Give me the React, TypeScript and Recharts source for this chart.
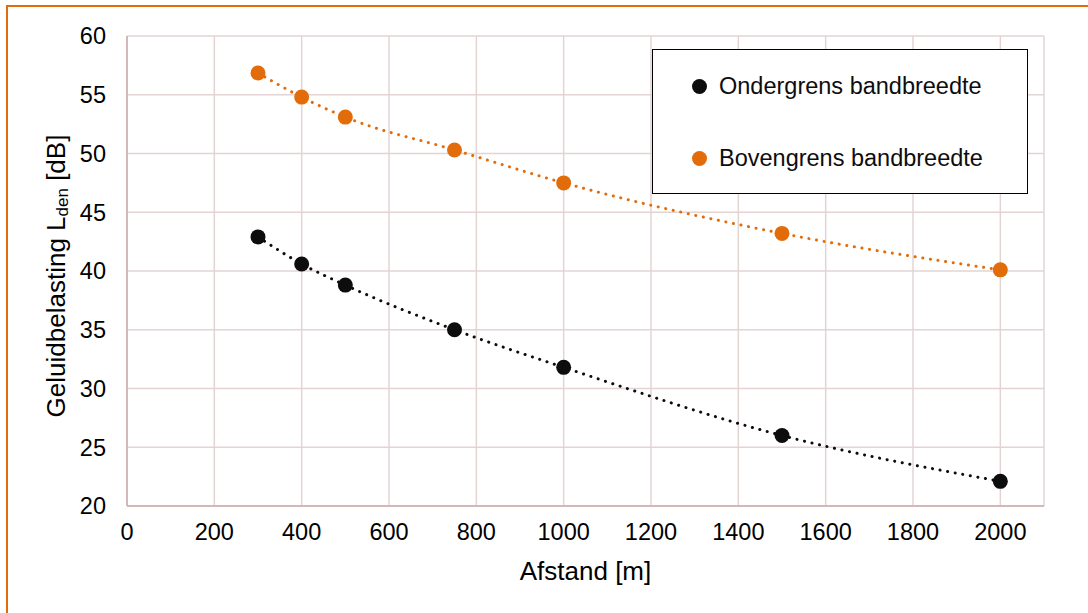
import React from 'react';
import { LineChart, Line, XAxis, YAxis, CartesianGrid, Legend } from 'recharts';

const distances = [300, 400, 500, 750, 1000, 1500, 2000];
const ondergrens = [42.9, 40.6, 38.8, 35.0, 31.8, 26.0, 22.1];
const bovengrens = [56.85, 54.8, 53.1, 50.3, 47.5, 43.2, 40.1];
const xTicks = [0, 200, 400, 600, 800, 1000, 1200, 1400, 1600, 1800, 2000];
const yTicks = [20, 25, 30, 35, 40, 45, 50, 55, 60];

const seriesNames = ['Ondergrens bandbreedte', 'Bovengrens bandbreedte'];
const BLACK = '#0d0d0d';
const ORANGE = '#E36C0A';
const FONT = '"Liberation Sans", Arial, sans-serif';
const TICK_FS = 23.5;
const TITLE_FS = 26;

const data = distances.map((d, i) => ({ x: d, onder: ondergrens[i], boven: bovengrens[i] }));

const YLabel = (props: any) => {
  const vb = props.viewBox || {};
  const cx = vb.x - 11;
  const cy = vb.y + vb.height / 2 + 5;
  return (
    <text
      x={cx}
      y={cy}
      transform={`rotate(-90, ${cx}, ${cy})`}
      textAnchor="middle"
      dominantBaseline="central"
      fill="#000"
      fontSize={TITLE_FS}
      fontFamily={FONT}
    >
      <tspan>Geluidbelasting L</tspan>
      <tspan fontSize={17} dy={6}>den</tspan>
      <tspan dy={-6}> [dB]</tspan>
    </text>
  );
};

const LegendBox = () => (
  <div
    style={{
      position: 'absolute',
      left: 652,
      top: 49,
      width: 376,
      height: 145,
      border: '1.5px solid #000',
      background: '#fff',
      boxSizing: 'border-box',
      fontFamily: FONT,
      fontSize: TICK_FS,
      color: '#0d0d0d',
    }}
  >
    {seriesNames.map((n, i) => (
      <div
        key={n}
        style={{ position: 'absolute', left: 39, top: i === 0 ? 22 : 94, display: 'flex', alignItems: 'center', whiteSpace: 'nowrap', lineHeight: '28px' }}
      >
        <span
          style={{
            display: 'inline-block',
            width: 15,
            height: 15,
            borderRadius: '50%',
            background: i === 0 ? BLACK : ORANGE,
            marginRight: 12,
          }}
        />
        <span>{n}</span>
      </div>
    ))}
  </div>
);

export default function App() {
  return (
    <div style={{ position: 'absolute', left: 0, top: 0, width: 1088, height: 613, background: '#fff', overflow: 'hidden' }}>
      <div style={{ position: 'absolute', left: 7, top: 5, width: 1081, height: 2, background: ORANGE }} />
      <div style={{ position: 'absolute', left: 6, top: 5, width: 2, height: 608, background: ORANGE }} />
      <div style={{ position: 'absolute', left: 0, top: 0 }}>
        <LineChart width={1088} height={613} data={data} margin={{ top: 36, right: 44, left: 67, bottom: 77 }}>
          <CartesianGrid stroke="#e3d3d3" strokeWidth={1.5} horizontal vertical />
          <XAxis
            dataKey="x"
            type="number"
            domain={[0, 2100]}
            ticks={xTicks}
            interval={0}
            height={30}
            tickLine={false}
            tickSize={0}
            tickMargin={17}
            axisLine={{ stroke: '#d2b8b8', strokeWidth: 2 }}
            tick={{ fill: '#000', fontSize: TICK_FS, fontFamily: FONT }}
            label={{ value: 'Afstand [m]', position: 'insideBottom', offset: -44, fill: '#000', fontSize: TITLE_FS, fontFamily: FONT }}
          />
          <YAxis
            type="number"
            domain={[20, 60]}
            ticks={yTicks}
            interval={0}
            width={60}
            tickLine={false}
            tickSize={0}
            tickMargin={21}
            axisLine={{ stroke: '#d2b8b8', strokeWidth: 2 }}
            tick={{ fill: '#000', fontSize: TICK_FS, fontFamily: FONT }}
            label={{ content: YLabel }}
          />
          <Legend
            verticalAlign="middle"
            align="center"
            layout="vertical"
            wrapperStyle={{ position: 'absolute', left: 0, top: 0, width: 0, height: 0 }}
            content={LegendBox}
          />
          <Line
            name={seriesNames[0]}
            dataKey="onder"
            type="monotone"
            stroke={BLACK}
            strokeWidth={3}
            strokeDasharray="0.1 7.6"
            strokeLinecap="round"
            dot={{ r: 7.5, fill: BLACK, stroke: 'none', strokeDasharray: 'none' }}
            activeDot={false}
            isAnimationActive={false}
          />
          <Line
            name={seriesNames[1]}
            dataKey="boven"
            type="monotone"
            stroke={ORANGE}
            strokeWidth={3}
            strokeDasharray="0.1 7.6"
            strokeLinecap="round"
            dot={{ r: 7.5, fill: ORANGE, stroke: 'none', strokeDasharray: 'none' }}
            activeDot={false}
            isAnimationActive={false}
          />
        </LineChart>
      </div>
    </div>
  );
}
